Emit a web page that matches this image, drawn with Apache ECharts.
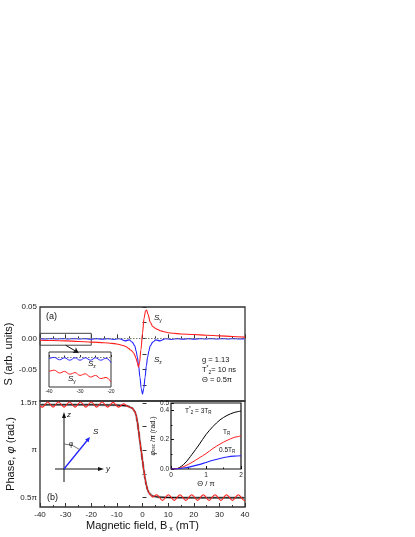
<!DOCTYPE html>
<html><head><meta charset="utf-8">
<script src="https://cdn.jsdelivr.net/npm/echarts@6/dist/echarts.min.js"></script>
<style>html,body{margin:0;padding:0;background:#fff}#c{width:415px;height:537px}</style>
</head><body><div id="c"></div>
<script>
// ---------- Panel (a): spin components vs magnetic field ----------
const syField = [-40,-35,-30,-25,-20,-15,-12,-10,-8,-6.5,-5.5,-4.5,-3.5,-3,-2.5,-2,-1.6,-1.2,-0.6,0,0.6,1.2,1.6,2.2,3,4,5,6,7,8,10,12,15,20,25,30,35,40];
const syValue = [-0.003,-0.0035,-0.004,-0.005,-0.006,-0.007,-0.008,-0.009,-0.011,-0.013,-0.016,-0.019,-0.023,-0.027,-0.032,-0.039,-0.046,-0.040,-0.018,0.008,0.032,0.044,0.045,0.038,0.026,0.019,0.016,0.014,0.012,0.011,0.009,0.008,0.007,0.006,0.005,0.004,0.003,0.002];
const szField = [-40,-37.8,-35.6,-33.4,-31.2,-29,-26.8,-24.6,-22.4,-20.2,-18,-15.8,-13.6,-11.2,-9,-6.8,-5.2,-4,-3,-2.5,-2,-1.5,-1,-0.5,0,0.5,1,1.5,2,2.5,3,4,5.2,6.8,9,11.2,13.6,15.8,18,20.2,22.4,24.6,26.8,29,31.2,33.4,35.6,37.8,40];
const szValue = [-0.0004,-0.0011,-0.0004,-0.0011,-0.0004,-0.0011,-0.0004,-0.0011,-0.0004,-0.0012,-0.0004,-0.0013,-0.0004,-0.0018,-0.0006,-0.004,-0.0025,-0.006,-0.012,-0.02,-0.03,-0.044,-0.062,-0.08,-0.089,-0.08,-0.062,-0.044,-0.03,-0.02,-0.012,-0.006,-0.0025,-0.004,-0.0006,-0.0018,-0.0004,-0.0013,-0.0004,-0.0012,-0.0004,-0.0011,-0.0004,-0.0011,-0.0004,-0.0011,-0.0004,-0.0011,-0.0004];
// inset of panel (a)
const insField = [-40,-38.3,-36.6,-35,-33.3,-31.6,-30,-28.3,-26.6,-25,-23.3,-21.6,-20];
const insSy = [-0.0036,-0.0033,-0.0040,-0.0036,-0.0043,-0.0039,-0.0046,-0.0042,-0.0050,-0.0046,-0.0054,-0.0051,-0.0063];
const insSz = [-0.0004,-0.0001,-0.0007,-0.0002,-0.0008,-0.0002,-0.0008,-0.0002,-0.0008,-0.0002,-0.0008,-0.0003,-0.0014];
// ---------- Panel (b): phase (units of pi) ----------
const phaseField = [-40,-20,-10,-6,-4,-3,-2.5,-2,-1.5,-1,-0.5,0,0.5,1,1.5,2,2.5,3,4,6,10,20,40];
const phaseSmooth = [1.48,1.48,1.477,1.468,1.445,1.41,1.37,1.30,1.20,1.09,0.99,0.89,0.79,0.70,0.63,0.58,0.55,0.535,0.515,0.505,0.50,0.497,0.497];
const phaseOscField = [-40,-39,-37,-34.9,-32.8,-30.6,-28.5,-26.3,-24.2,-22.1,-20,-17.9,-15.8,-13.6,-11.5,-9.4,-7.3,-5.5,-4,-3,-2.5,-2,-1.5,-1,-0.5,0,0.5,1,1.5,2,2.5,3,4,5.5,7.8,10.1,12.4,14.6,16.9,19.2,21.5,23.7,26,28.3,30.6,32.8,35.1,37.4,39.7,40];
const phaseOsc = [1.47,1.455,1.51,1.455,1.51,1.455,1.51,1.455,1.51,1.455,1.51,1.455,1.51,1.455,1.505,1.455,1.49,1.46,1.445,1.41,1.37,1.30,1.20,1.09,0.99,0.89,0.79,0.70,0.63,0.58,0.55,0.53,0.505,0.53,0.47,0.53,0.47,0.53,0.47,0.53,0.47,0.53,0.47,0.53,0.47,0.53,0.47,0.53,0.47,0.472];
// inset of panel (b)
const thetaVals = [0,0.2,0.4,0.6,0.8,1.0,1.2,1.4,1.6,1.8,2.0];
const osc3TR = [0,0.005,0.04,0.10,0.165,0.235,0.29,0.335,0.365,0.385,0.395];
const oscTR = [0,0.003,0.02,0.045,0.075,0.105,0.14,0.17,0.195,0.215,0.225];
const osc05TR = [0,0.002,0.008,0.018,0.03,0.045,0.06,0.072,0.082,0.088,0.09];
// ---------- ticks ----------
const topYTicks = [-0.075,-0.05,-0.025,0,0.025,0.05];
const topYLabels = [-0.05,0,0.05];
const phaseTicks = [0.5,0.75,1,1.25,1.5];
const phaseLabels = [0.5,1,1.5];

const pairs = (xs, ys) => xs.map((x, i) => [x, ys[i]]);
const FF = '"Liberation Sans", Arial, sans-serif';
const AX = '#333';
const RED = '#ff1f1f', BLUE = '#2323ff';

const chart = echarts.init(document.getElementById('c'), null, {renderer: 'canvas'});

function xAx(grid, opts) {
  return Object.assign({
    gridIndex: grid, type: 'value', min: -40, max: 40, interval: 10,
    axisLine: {show: false},
    axisTick: {show: true, inside: true, length: 4, lineStyle: {color: AX}},
    minorTick: {show: true, splitNumber: 2, length: 2, lineStyle: {color: AX}},
    splitLine: {show: false},
    axisLabel: {show: false}
  }, opts);
}

const rich = {
  n: {fontSize: 7.5, fontFamily: FF, color: '#111', lineHeight: 10},
  i: {fontSize: 8, fontFamily: FF, fontStyle: 'italic', color: '#111', lineHeight: 10},
  sub: {fontSize: 5, fontFamily: FF, color: '#111', lineHeight: 5, verticalAlign: 'bottom'},
  sup: {fontSize: 5, fontFamily: FF, color: '#111', lineHeight: 5, verticalAlign: 'top'},
  sn: {fontSize: 6.5, fontFamily: FF, color: '#111', lineHeight: 9},
  ssub: {fontSize: 4.5, fontFamily: FF, color: '#111', lineHeight: 4.5, verticalAlign: 'bottom'},
  ssup: {fontSize: 4.5, fontFamily: FF, color: '#111', lineHeight: 4.5, verticalAlign: 'top'}
};
function txt(x, y, text, extra) {
  return {type: 'text', x: x, y: y, silent: true,
    style: Object.assign({text: text, rich: rich, font: '8px ' + FF, fill: '#111', verticalAlign: 'middle', align: 'left'}, extra || {})};
}

const option = {
  animation: false,
  backgroundColor: '#fff',
  textStyle: {fontFamily: FF},
  grid: [
    {left: 40, top: 307, width: 205, height: 94, show: true, borderColor: AX, borderWidth: 1.3, backgroundColor: 'transparent'},
    {left: 40, top: 401, width: 205, height: 106, show: true, borderColor: AX, borderWidth: 1.3, backgroundColor: 'transparent'},
    {left: 49, top: 352, width: 62, height: 35, show: true, borderColor: AX, borderWidth: 1, backgroundColor: '#fff'},
    {left: 171, top: 403, width: 70, height: 66, show: true, borderColor: '#111', borderWidth: 1.2, backgroundColor: '#fff'}
  ],
  xAxis: [
    xAx(0, {}),
    xAx(1, {
      axisLabel: {show: true, fontSize: 8, color: '#222', margin: 4, fontFamily: FF},
      name: '{t|Magnetic field, B}{s| x}{t| (mT)}', nameLocation: 'middle', nameGap: 12,
      nameTextStyle: {rich: {t: {fontSize: 11, fontFamily: FF, color: '#111', lineHeight: 14}, s: {fontSize: 7, fontFamily: FF, color: '#111', lineHeight: 7, verticalAlign: 'bottom'}}}
    }),
    xAx(2, {min: -40, max: -20, interval: 10,
      axisTick: {show: true, inside: true, length: 2, lineStyle: {color: AX}},
      minorTick: {show: true, splitNumber: 2, length: 1.5, lineStyle: {color: AX}},
      axisLabel: {show: true, fontSize: 5, color: '#222', margin: 2, fontFamily: FF}}),
    {gridIndex: 3, type: 'value', min: 0, max: 2, interval: 1,
      axisLine: {show: false},
      axisTick: {show: true, inside: true, length: 3, lineStyle: {color: '#111'}},
      minorTick: {show: true, splitNumber: 2, length: 1.5, lineStyle: {color: '#111'}},
      splitLine: {show: false},
      axisLabel: {show: true, fontSize: 6.5, color: '#222', margin: 3, fontFamily: FF},
      name: '{t|Θ / π}', nameLocation: 'middle', nameGap: 11,
      nameTextStyle: {rich: {t: {fontSize: 7.5, fontFamily: FF, color: '#111'}}}}
  ],
  yAxis: [
    {gridIndex: 0, type: 'value', min: -0.1, max: 0.05,
      axisLine: {show: false},
      axisTick: {show: true, inside: true, length: 4, lineStyle: {color: AX}, customValues: topYTicks},
      splitLine: {show: false},
      axisLabel: {fontSize: 8, color: '#222', margin: 3, fontFamily: FF, customValues: topYLabels, formatter: v => v.toFixed(2)},
      name: 'S (arb. units)', nameLocation: 'middle', nameGap: 24,
      nameTextStyle: {fontSize: 11, color: '#111', fontFamily: FF}},
    {gridIndex: 1, type: 'value', min: 0.4, max: 1.52,
      axisLine: {show: false},
      axisTick: {show: true, inside: true, length: 4, lineStyle: {color: AX}, customValues: phaseTicks},
      splitLine: {show: false},
      axisLabel: {fontSize: 8, color: '#222', margin: 3, fontFamily: FF, customValues: phaseLabels, formatter: v => (Math.abs(v - 1) < 1e-9 ? 'π' : v + 'π')},
      name: '{t|Phase, }{i|φ}{t| (rad.)}', nameLocation: 'middle', nameGap: 21,
      nameTextStyle: {rich: {t: {fontSize: 11, fontFamily: FF, color: '#111'}, i: {fontSize: 11, fontFamily: FF, fontStyle: 'italic', color: '#111'}}}},
    {gridIndex: 2, type: 'value', min: -0.0075, max: 0.00125,
      axisLine: {show: false},
      axisTick: {show: false}, axisLabel: {show: false}, splitLine: {show: false}},
    {gridIndex: 3, type: 'value', min: 0, max: 0.45, interval: 0.2,
      axisLine: {show: false},
      axisTick: {show: true, inside: true, length: 3, lineStyle: {color: '#111'}},
      minorTick: {show: true, splitNumber: 2, length: 1.5, lineStyle: {color: '#111'}},
      splitLine: {show: false},
      axisLabel: {fontSize: 6.5, color: '#222', margin: 2, fontFamily: FF, formatter: v => v.toFixed(1)},
      name: '{i|φ}{s|osc}{t| /π (rad.)}', nameLocation: 'middle', nameGap: 12,
      nameTextStyle: {rich: {t: {fontSize: 7, fontFamily: FF, color: '#111'}, i: {fontSize: 7, fontStyle: 'italic', fontFamily: FF, color: '#111'}, s: {fontSize: 4.5, fontFamily: FF, color: '#111', verticalAlign: 'bottom', lineHeight: 4}}}}
  ],
  series: [
    {type: 'line', xAxisIndex: 0, yAxisIndex: 0, data: pairs(szField, szValue), symbol: 'none', smooth: 0.35, smoothMonotone: 'x',
      lineStyle: {color: BLUE, width: 1.1}, z: 3,
      markLine: {silent: true, symbol: 'none', label: {show: false},
        lineStyle: {color: '#777', type: [1.5, 1.5], width: 1}, data: [{yAxis: 0}]}},
    {type: 'line', xAxisIndex: 0, yAxisIndex: 0, data: pairs(syField, syValue), symbol: 'none', smooth: 0.3, smoothMonotone: 'x',
      lineStyle: {color: RED, width: 1.1}, z: 4,
      markArea: {silent: true, itemStyle: {color: 'rgba(0,0,0,0)', borderColor: '#444', borderWidth: 1},
        data: [[{coord: [-40, 0.008]}, {coord: [-20, -0.011]}]]},
      markLine: {silent: true, symbol: ['none', 'arrow'], symbolSize: 5, label: {show: false},
        lineStyle: {color: '#111', type: 'solid', width: 1},
        data: [[{coord: [-30, -0.011]}, {coord: [-25, -0.023]}]]}},
    {type: 'line', xAxisIndex: 2, yAxisIndex: 2, data: pairs(insField, insSz), symbol: 'none', smooth: 0.4,
      lineStyle: {color: BLUE, width: 1}, z: 6,
      markLine: {silent: true, symbol: 'none', label: {show: false},
        lineStyle: {color: '#777', type: [1.5, 1.5], width: 1}, data: [{yAxis: 0}]}},
    {type: 'line', xAxisIndex: 2, yAxisIndex: 2, data: pairs(insField, insSy), symbol: 'none', smooth: 0.4,
      lineStyle: {color: RED, width: 1}, z: 6},
    {type: 'line', xAxisIndex: 1, yAxisIndex: 1, data: pairs(phaseField, phaseSmooth), symbol: 'none', smooth: 0.3, smoothMonotone: 'x',
      lineStyle: {color: '#aaa', width: 2.4}, z: 2},
    {type: 'line', xAxisIndex: 1, yAxisIndex: 1, data: pairs(phaseField, phaseSmooth), symbol: 'none', smooth: 0.3, smoothMonotone: 'x',
      lineStyle: {color: '#000', width: 1}, z: 3},
    {type: 'line', xAxisIndex: 1, yAxisIndex: 1, data: pairs(phaseOscField, phaseOsc), symbol: 'none', smooth: 0.4, smoothMonotone: 'x',
      lineStyle: {color: RED, width: 1.1}, z: 4},
    {type: 'line', xAxisIndex: 3, yAxisIndex: 3, data: pairs(thetaVals, osc3TR), symbol: 'none', smooth: 0.3,
      lineStyle: {color: '#000', width: 1}, z: 6},
    {type: 'line', xAxisIndex: 3, yAxisIndex: 3, data: pairs(thetaVals, oscTR), symbol: 'none', smooth: 0.3,
      lineStyle: {color: RED, width: 1}, z: 6},
    {type: 'line', xAxisIndex: 3, yAxisIndex: 3, data: pairs(thetaVals, osc05TR), symbol: 'none', smooth: 0.3,
      lineStyle: {color: BLUE, width: 1.1}, z: 6}
  ],
  graphic: [
    txt(46, 317, '(a)', {font: '9px ' + FF}),
    txt(47, 498, '(b)', {font: '9px ' + FF}),
    txt(154, 318, '{i|S}{sub|y}'),
    txt(154, 360, '{i|S}{sub|z}'),
    txt(88, 364, '{i|S}{sub|z}'),
    txt(68, 379, '{i|S}{sub|y}'),
    txt(202, 360, '{n|g = 1.13}'),
    txt(202, 370, '{n|T}{sup|*}{sub|2}{n|= 10 ns}'),
    txt(202, 380, '{n|Θ = 0.5π}'),
    txt(185, 411, '{sn|T}{ssup|*}{ssub|2}{sn| = 3T}{ssub|R}'),
    txt(223, 432, '{sn|T}{ssub|R}'),
    txt(219, 450, '{sn|0.5T}{ssub|R}'),
    // coordinate sketch
    {type: 'line', silent: true, shape: {x1: 64, y1: 482, x2: 64, y2: 417}, style: {stroke: '#111', lineWidth: 1}},
    {type: 'polygon', silent: true, shape: {points: [[64, 412], [62, 418], [66, 418]]}, style: {fill: '#111'}},
    {type: 'line', silent: true, shape: {x1: 55, y1: 469, x2: 100, y2: 469}, style: {stroke: '#111', lineWidth: 1}},
    {type: 'polygon', silent: true, shape: {points: [[104, 469], [98, 467], [98, 471]]}, style: {fill: '#111'}},
    {type: 'line', silent: true, shape: {x1: 64, y1: 469, x2: 87.5, y2: 440}, style: {stroke: BLUE, lineWidth: 1.3}},
    {type: 'polygon', silent: true, shape: {points: [[90, 437], [88.6, 442.3], [85.1, 439.4]]}, style: {fill: BLUE}},
    {type: 'arc', silent: true, shape: {cx: 64, cy: 469, r: 25, startAngle: -Math.PI / 2, endAngle: -0.888, clockwise: true}, style: {stroke: '#555', lineWidth: 0.8, fill: null}},
    txt(67, 415, '{i|z}'),
    txt(106, 469, '{i|y}'),
    txt(93, 432, '{i|S}', {font: 'italic 9px ' + FF}),
    txt(69, 444, '{sn|φ}')
  ]
};
chart.setOption(option);
</script></body></html>
